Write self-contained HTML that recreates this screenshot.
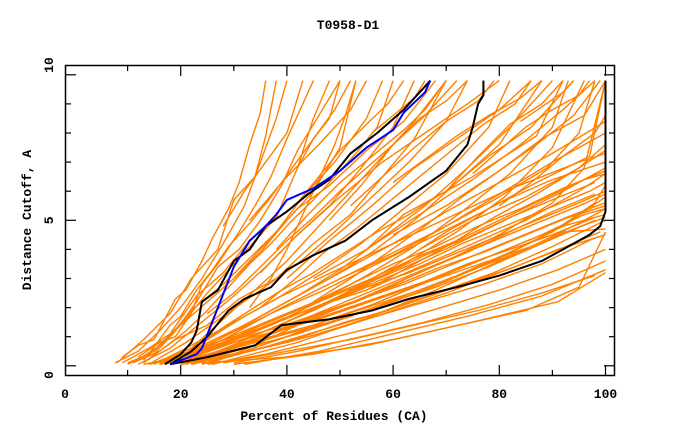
<!DOCTYPE html>
<html><head><meta charset="utf-8"><style>
body{margin:0;background:#fff;}
svg{display:block;font-family:"Liberation Mono",monospace;font-weight:bold;}
</style></head><body>
<svg id="chart" width="680" height="440" xmlns="http://www.w3.org/2000/svg">
<text x="348" y="29" text-anchor="middle" font-size="13">T0958-D1</text>
<g id="orange"></g>
<g id="main"></g>
<rect x="65.5" y="65.5" width="549" height="310" fill="none" stroke="#000" stroke-width="1.5"/>
<g id="axes"></g>
<text x="334" y="420" text-anchor="middle" font-size="13">Percent of Residues (CA)</text>
<text transform="translate(31,220) rotate(-90)" text-anchor="middle" font-size="13">Distance Cutoff, A</text>
</svg>
<script>
const xTicks=[0,20,40,60,80,100];
const xMinor=[10,30,50,70,90];
const yTicks=[0,5,10];
const yMinor=[1,2,3,4,6,7,8,9];
const orangeLines=[
[7.6,0.1,12,0.5,16,1.2,20,2.0,24,3.0,28,4.2,32,5.5,35,7.0,38,8.5,40,9.8],
[8,0.1,13,0.9,18,1.8,22,3.0,27,4.0,30,5.7,34,6.5,36,7.9,38,9.8],
[9,0.1,14,0.6,18,1.1,23,2.4,28,3.2,33,4.3,38,5.1,42,6.8,45,8.5,48,9.8],
[10,0.05,15,0.5,20,1.4,25,2.2,30,3.0,35,3.9,40,5.0,45,6.0,50,7.5,53,9.8],
[11,0.1,17,0.8,22,1.9,28,2.8,33,3.7,38,4.6,43,5.8,49,7.0,55,8.5,58,9.8],
[12,0.05,18,0.6,24,1.5,30,2.4,36,3.4,42,4.5,48,5.5,54,6.8,60,8.2,64,9.8],
[13,0.1,19,0.9,25,1.4,31,2.3,38,3.0,45,4.2,52,5.2,58,6.5,64,7.8,70,9.8],
[14,0.05,21,0.8,28,1.7,35,2.6,42,3.5,49,4.6,56,5.8,63,7.0,70,8.4,74,9.8],
[15,0.1,22,0.6,30,1.5,38,2.3,46,3.2,54,4.2,62,5.4,70,6.6,78,8.2,82,9.8],
[16,0.05,24,0.7,32,1.4,40,2.2,48,3.0,56,3.9,64,5.0,72,6.3,80,7.6,88,9.8],
[17,0.1,26,0.8,34,1.6,42,2.4,50,3.3,58,4.4,66,5.5,74,6.8,82,8.2,90,9.8],
[18,0.05,27,0.6,36,1.2,45,1.9,54,2.7,63,3.6,72,4.6,81,5.8,90,7.5,96,9.8],
[19,0.1,28,0.7,37,1.4,46,2.2,55,3.1,64,4.1,73,5.3,82,6.6,90,8.2,93,9.8],
[20,0.05,30,0.7,40,1.3,50,2.0,60,2.8,70,3.6,80,4.5,90,5.6,96,6.8,100,9.8],
[21,0.1,30,0.5,40,1.0,50,1.6,60,2.2,70,2.9,80,3.7,90,4.6,98,5.6,100,6.2],
[22,0.05,32,0.6,42,1.1,52,1.7,62,2.4,72,3.1,82,3.9,92,4.8,100,5.8],
[16,0.05,25,0.4,35,0.9,45,1.4,55,2.0,65,2.6,75,3.3,85,4.0,95,4.9,100,5.4],
[18,0.1,28,0.5,38,1.0,48,1.5,58,2.1,68,2.7,78,3.4,88,4.2,98,5.0],
[20,0.05,30,0.4,40,0.8,50,1.3,60,1.9,70,2.5,80,3.2,90,3.9,99,4.6],
[22,0.05,33,0.5,44,1.0,55,1.6,66,2.2,77,2.8,88,3.5,98,4.4],
[24,0.05,35,0.6,46,1.2,57,1.8,68,2.5,79,3.2,90,4.1,100,5.0],
[15,0.1,25,0.7,35,1.3,45,2.0,55,2.6,65,3.4,75,4.2,85,5.0,95,6.0,100,6.6],
[17,0.05,27,0.9,37,1.8,47,2.6,57,3.5,67,4.4,77,5.3,87,6.3,97,7.2,100,9.8],
[19,0.1,29,1.0,39,2.0,49,2.9,59,3.8,69,4.7,79,5.7,89,6.8,95,8.0,98,9.8],
[21,0.05,31,0.8,41,1.6,51,2.5,61,3.3,71,4.1,81,5.0,91,5.9,100,6.8],
[25,0.05,36,0.4,47,0.9,58,1.4,69,2.0,80,2.6,91,3.3,100,4.0],
[28,0.1,40,0.5,52,0.9,64,1.4,76,1.9,88,2.5,98,3.1],
[30,0.05,45,0.4,60,0.9,75,1.5,91,2.2,100,3.2],
[24,0.1,40,0.3,55,0.7,70,1.3,85,1.9,95,2.7,100,4.6],
[26,0.05,42,0.8,56,1.7,68,2.6,80,3.6,92,4.6,100,4.7],
[12,0.3,16,0.8,19,1.0,22,1.8,24,2.8,27,3.5,31,4.6,34,5.5,37,6.5,40,7.8,43,9.0,45,9.8],
[14,0.2,19,1.2,23,2.2,27,3.4,31,4.0,35,5.0,39,6.2,42,7.4,46,8.6,50,9.8],
[30,3.0,36,4.2,42,5.4,48,6.2,55,7.4,62,8.4,68,9.8],
[35,3.2,42,4.5,50,5.8,58,7.0,66,8.0,74,9.0,80,9.8],
[40,3.0,48,4.3,56,5.5,64,6.8,72,7.8,80,8.8,86,9.8],
[45,3.0,55,4.0,65,5.2,75,6.4,84,7.6,92,8.8,98,9.8],
[50,3.0,60,3.8,70,4.8,80,5.9,90,7.0,100,8.0],
[33,5.0,40,6.5,46,7.6,52,8.8,55,9.8],
[28,4.8,32,6.0,36,7.0,40,8.0,43,9.8],
[55,4.0,62,5.2,70,6.0,78,7.2,86,8.2,94,9.8],
[60,4.5,70,5.5,80,6.7,88,7.8,96,8.6,100,9.8],
[65,4.0,75,5.0,85,5.8,95,6.8,100,7.4],
[40,1.5,50,2.4,60,3.4,70,4.6,80,5.6,90,6.4,100,7.0],
[30,1.2,40,2.2,50,3.2,60,4.2,70,5.3,80,6.3,90,7.3,100,8.4],
[22,0.6,28,1.6,34,2.6,40,3.6,46,4.8,52,6.0,58,7.2,64,8.4,70,9.8],
[48,5.0,54,6.2,60,7.6,66,8.6,72,9.8],
[70,6.0,76,7.2,82,8.3,88,9.0,92,9.8],
[14,0.05,22,0.4,30,0.9,38,1.3,46,1.8,54,2.3,62,2.8,70,3.4,78,4.0,86,4.6,94,5.2,100,5.6],
[15,0.1,23,0.5,31,1.0,39,1.6,47,2.1,55,2.7,63,3.2,71,3.8,79,4.4,87,5.0,95,5.6,100,6.0],
[17,0.05,25,0.5,33,1.1,41,1.7,49,2.3,57,2.9,65,3.5,73,4.2,81,4.8,89,5.4,97,6.0,100,6.3],
[19,0.1,26,0.6,34,1.3,42,1.9,50,2.5,58,3.1,66,3.8,74,4.4,82,5.1,90,5.7,98,6.3],
[20,0.1,28,0.8,36,1.5,44,2.1,52,2.8,60,3.5,68,4.1,76,4.8,84,5.4,92,6.1,100,6.7],
[21,0.05,29,0.6,37,1.1,45,1.7,53,2.2,61,2.8,69,3.4,77,3.9,85,4.5,93,5.1,100,5.5],
[23,0.1,31,0.7,39,1.3,47,1.9,55,2.5,63,3.1,71,3.7,79,4.3,87,4.9,95,5.5,100,5.9],
[16,0.1,24,0.6,32,1.2,40,1.8,48,2.4,56,3.0,64,3.7,72,4.3,80,5.0,88,5.7,96,6.4,100,6.6],
[18,0.05,26,0.4,34,0.9,42,1.4,50,1.9,58,2.4,66,2.9,74,3.5,82,4.0,90,4.5,98,5.1],
[13,0.05,20,0.3,28,0.7,36,1.1,44,1.5,52,2.0,60,2.5,68,3.0,76,3.6,84,4.2,92,4.8,100,5.2],
[20,0.05,27,0.3,35,0.6,43,1.0,51,1.5,59,1.9,67,2.4,75,2.9,83,3.4,91,4.0,100,4.5],
[22,0.1,30,0.6,38,1.2,46,1.6,54,2.1,62,2.6,70,3.1,78,3.6,86,4.1,94,4.7,100,5.1],
[24,0.05,32,0.5,40,1.0,48,1.6,56,2.1,64,2.7,72,3.3,80,3.9,88,4.5,96,5.2,100,5.4],
[26,0.1,34,0.7,42,1.4,50,2.0,58,2.6,66,3.3,74,3.9,82,4.6,90,5.3,98,5.9],
[18,0.1,25,0.9,32,1.7,39,2.4,46,3.0,53,3.6,60,4.2,67,4.8,74,5.4,81,6.0,88,6.5,95,7.0,100,7.3],
[15,0.05,21,0.6,27,1.2,33,1.9,39,2.6,45,3.2,51,3.9,57,4.6,63,5.2,69,5.9,75,6.5,81,7.2,87,7.9,92,9.8],
[11,0.1,16,0.5,21,1.2,25,1.9,29,2.7,33,3.5,37,4.2,41,5.0,45,5.7,49,6.5,53,7.3,57,8.2,60,9.8],
[10,0.1,14,0.4,18,1.4,20,1.7,23,2.6,26,3.3,29,4.1,33,4.9,37,5.8,41,6.8,45,7.8,49,8.8,52,9.8],
[9,0.3,12,0.7,15,0.9,17,1.6,19,2.3,21,2.6,24,3.6,26,4.4,29,5.4,31,6.3,33,7.6,35,8.7,36,9.8],
[13,0.2,17,0.9,21,1.6,25,2.5,29,3.3,33,4.1,37,4.9,42,5.6,46,6.5,50,7.4,55,8.3,59,9.0,62,9.8],
[25,1.8,30,2.5,35,3.4,40,4.3,45,5.1,50,6.0,55,6.8,60,7.6,65,8.5,70,9.1,74,9.8],
[35,2.0,41,2.9,47,3.9,53,4.7,59,5.6,65,6.5,71,7.4,77,8.3,83,9.0,86,9.8],
[45,2.2,52,3.0,59,3.9,66,4.8,73,5.8,80,6.7,87,7.6,94,8.6,99,9.8],
[38,4.0,44,5.2,50,6.3,56,7.2,62,8.1,66,8.8,70,9.8],
[52,5.5,58,6.5,64,7.5,70,8.4,76,9.1,79,9.8],
[60,6.3,66,7.1,72,7.9,78,8.6,84,9.2,88,9.8],
[75,6.6,80,7.4,85,8.2,90,8.8,95,9.3,97,9.8],
[80,5.5,86,6.3,92,7.2,98,8.0,100,8.6],
[55,2.6,63,3.4,71,4.2,79,5.1,87,5.9,95,6.8,100,7.6],
[33,2.0,37,3.0,40,4.0,43,5.2,46,6.4,49,7.6,51,8.6,53,9.8],
[42,6.8,45,7.8,48,8.5,50,9.8],
[56,8.0,60,8.6,64,9.2,66,9.8],
[84,8.4,88,8.9,92,9.4,94,9.8],
[30,0.1,42,0.5,54,1.0,66,1.5,78,2.1,90,2.8,100,3.6],
[32,0.05,46,0.5,60,1.1,74,1.7,88,2.4,100,3.3]
];
const black1=[[17,0.05],[20,0.4],[22,0.8],[23,1.2],[24,2.2],[27,2.6],[30,3.6],[33,4.0],[36,4.8],[40,5.3],[44,5.9],[48,6.4],[52,7.3],[57,8.0],[62,8.8],[66,9.6],[67,9.8]];
const blue1=[[18,0.05],[23,0.4],[24,0.6],[27,2.0],[30,3.4],[33,4.3],[36,4.8],[38,5.2],[40,5.7],[45,6.1],[50,6.7],[55,7.5],[60,8.1],[62,8.7],[66,9.4],[67,9.8]];
const black2=[[18,0.05],[22,0.5],[25,1.0],[29,1.9],[32,2.3],[37,2.7],[40,3.3],[45,3.8],[51,4.3],[56,5.0],[63,5.8],[70,6.7],[74,7.6],[75,8.2],[76,9.0],[77,9.3],[77,9.8]];
const black3=[[18,0.05],[25,0.3],[34,0.7],[39,1.4],[48,1.6],[56,1.9],[63,2.3],[72,2.7],[80,3.1],[88,3.6],[93,4.1],[97,4.5],[99,4.8],[100,5.3],[100,9.8]];
const NS="http://www.w3.org/2000/svg";
const xs=v=>74.5+5.31*v;
const ys=v=>365.8-29.1*v;
const og=document.getElementById('orange');
orangeLines.forEach((a,i)=>{
  let pts=[];for(let j=0;j<a.length;j+=2)pts.push(xs(a[j]).toFixed(1)+','+ys(a[j+1]).toFixed(1));
  const p=document.createElementNS(NS,'polyline');
  p.setAttribute('points',pts.join(' '));
  p.setAttribute('fill','none');p.setAttribute('stroke','#ff8000');p.setAttribute('stroke-width','1.4');
  
  
  og.appendChild(p);
});
const mg=document.getElementById('main');
function line(d,col,name){
  const p=document.createElementNS(NS,'polyline');
  p.setAttribute('points',d.map(q=>xs(q[0]).toFixed(1)+','+ys(q[1]).toFixed(1)).join(' '));
  p.setAttribute('fill','none');p.setAttribute('stroke',col);p.setAttribute('stroke-width','2');
  
  
  mg.appendChild(p);
}
line(black3,'#000','black-line-3');
line(black2,'#000','black-line-2');
line(black1,'#000','black-line-1');
line(blue1,'#0000ff','blue-line');
const ax=document.getElementById('axes');
function seg(x1,y1,x2,y2){
  const l=document.createElementNS(NS,'line');
  l.setAttribute('x1',x1);l.setAttribute('y1',y1);l.setAttribute('x2',x2);l.setAttribute('y2',y2);
  l.setAttribute('stroke','#000');l.setAttribute('stroke-width','1.2');
  
  
  ax.appendChild(l);
}
function txt(x,y,s,anchor,rot){
  const t=document.createElementNS(NS,'text');
  t.setAttribute('x',x);t.setAttribute('y',y);t.setAttribute('text-anchor',anchor);t.setAttribute('font-size','13');
  if(rot)t.setAttribute('transform',rot);
  t.textContent=s;
  
  
  ax.appendChild(t);
}
xTicks.forEach(v=>{const x=xs(v);if(v>0){seg(x,375,x,365);seg(x,66,x,76);}txt(v===0?65:x,398,String(v),'middle');});
xMinor.forEach(v=>{const x=xs(v);seg(x,375,x,370);seg(x,66,x,71);});
yTicks.forEach(v=>{const y=ys(v);seg(66,y,76,y);seg(614,y,604,y);const ly=v===0?375:(v===10?65:y);txt(53,ly,String(v),'middle','rotate(-90,53,'+ly+')');});
yMinor.forEach(v=>{const y=ys(v);seg(66,y,71,y);seg(614,y,609,y);});
</script>
</body></html>
